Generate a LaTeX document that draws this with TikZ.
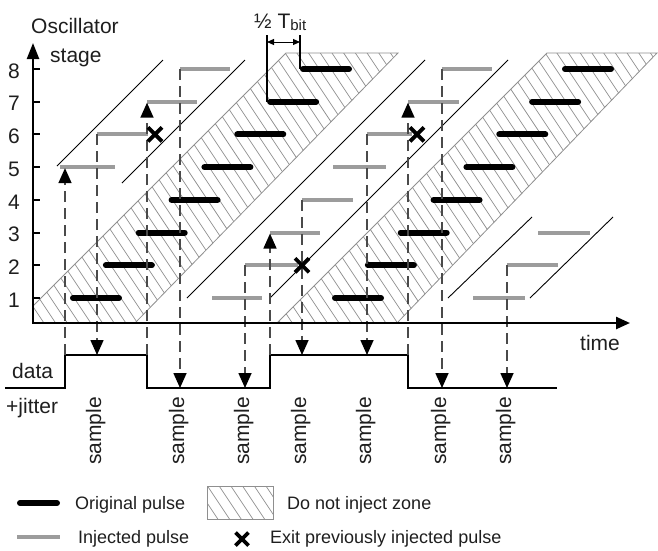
\documentclass[tikz,border=0pt]{standalone}
\usepackage{fontspec}
\setmainfont{Liberation Sans}
\usetikzlibrary{arrows.meta}
\definecolor{injgray}{HTML}{9C9C9C}
\definecolor{dashgray}{HTML}{4A4A4A}
\definecolor{hatchgray}{HTML}{8F8F8F}
\definecolor{txt}{HTML}{1E1E1E}
\begin{document}
\begin{tikzpicture}[x=1pt,y=-1pt,
  every node/.style={inner sep=0pt, text=txt},
  lbl/.style={font=\fontsize{21}{24}\selectfont},
  leg/.style={font=\fontsize{18}{21}\selectfont},
  orig/.style={line width=6pt, line cap=round, black},
  inj/.style={line width=4pt, injgray},
  thinl/.style={line width=0.9pt, black},
  dsh/.style={line width=1.6pt, dashgray, dash pattern=on 11pt off 6pt},
  tri/.style={-{Triangle[length=15pt,width=13pt,black]}},
  axis/.style={line width=2.4pt, black},
  datal/.style={line width=2.6pt, black},
  hatchl/.style={line width=0.7pt, hatchgray},
  hborder/.style={line width=0.8pt, hatchgray},
  xm/.style={line width=3.8pt, black},
]
\useasboundingbox (0,0) rectangle (658,550);

% ---- do-not-inject zones
\begin{scope}
  \clip (33,323) -- (33,306) -- (286,53) -- (398,53) -- (135,323) -- cycle;
  \foreach \a in {-250,-238.3,...,450} \draw[hatchl] (\a,40) -- ++(200,300);
\end{scope}
\draw[hborder] (33,306) -- (286,53) -- (398,53) -- (135,323);
\begin{scope}
  \clip (277,323) -- (547,53) -- (657,53) -- (397,323) -- cycle;
  \foreach \a in {10,21.7,...,700} \draw[hatchl] (\a,40) -- ++(200,300);
\end{scope}
\draw[hborder] (277,323) -- (547,53) -- (657,53) -- (397,323);

% ---- injection window lines
\draw[thinl] (57,166) -- (163,60);
\draw[thinl] (122,183) -- (245,60);
\draw[thinl] (187,298) -- (425,60);
\draw[thinl] (270,298) -- (508,60);
\draw[thinl] (448,298) -- (532,217);
\draw[thinl] (530,298) -- (613,217);

% ---- injected pulses
\foreach \xa/\xb/\k in {60/115/5, 97/148/6, 147/197/7, 180/230/8,
  212/262/1, 245/298/2, 270/320/3, 302/353/4, 333/386/5, 367/412/6, 408/459/7, 442/492/8,
  473/525/1, 507/558/2, 538/590/3}{
  \pgfmathsetmacro\yy{298-(\k-1)*32.714}
  \draw[inj] (\xa,\yy) -- (\xb,\yy);
}

% ---- original pulses
\foreach \k in {1,...,8}{
  \pgfmathsetmacro\yy{298-(\k-1)*32.714}
  \pgfmathsetmacro\xs{70+(\k-1)*32.857}
  \draw[orig] (\xs+3,\yy) -- ++(46,0);
  \draw[orig] (\xs+265,\yy) -- ++(46,0);
}

% ---- data + jitter line
\draw[datal] (5,388) -- (65,388) -- (65,355) -- (147,355) -- (147,388)
  -- (270,388) -- (270,355) -- (408,355) -- (408,388) -- (557,388);

% ---- sampling arrows (down)
\foreach \x/\k/\yd [count=\i] in {97/6/355, 180/8/388, 245/2/388, 302/4/355,
  367/6/355, 442/8/388, 507/2/388}{
  \pgfmathsetmacro\yy{298-(\k-1)*32.714}
  \coordinate (top\i) at (\x,\yy);
  \coordinate (smp\i) at (\x,\yd);
  \draw[dsh,tri] (top\i) -- (smp\i);
  \node[lbl, rotate=90, anchor=base] (s\i) at (\x+4,431) {sample};
}

% ---- injection arrows (up)
\foreach \x/\k [count=\i] in {65/5, 147/7, 270/3, 408/7}{
  \pgfmathsetmacro\yy{298-(\k-1)*32.714+1}
  \coordinate (edge\i) at (\x,355);
  \coordinate (inj\i) at (\x,\yy);
  \draw[dsh,tri] (edge\i) -- (inj\i);
}

% ---- axes
\coordinate (orig) at (33,323);
\coordinate (ytip) at (33,43);
\coordinate (xtip) at (630,323);
\draw[axis, {Triangle[length=16pt,width=12pt]}-{Triangle[length=14pt,width=12pt]}]
  (ytip) -- (orig) -- (xtip);
\foreach \k in {1,...,8}{
  \pgfmathsetmacro\yy{298-(\k-1)*32.714}
  \draw[line width=2pt] (33,\yy) -- (40,\yy);
  \node[lbl] (t\k) at (14,\yy+2) {\k};
}

% ---- exit markers
\foreach \p in {(155,134.4), (302,265.3), (417,134.4)}{
  \draw[xm] \p +(-7,-7) -- +(7,7) +(-7,7) -- +(7,-7);
}

% ---- half bit period
\draw[line width=1.5pt] (267,35) -- (267,101.7);
\draw[line width=1.5pt] (300,35) -- (300,69);
\coordinate (hl) at (267,42);
\coordinate (hr) at (300,42);
\draw[line width=1pt, {Triangle[length=7pt,width=6pt]}-{Triangle[length=7pt,width=6pt]}] (hl) -- (hr);
\node[lbl, anchor=base west] (half) at (254,28) {½ T\raisebox{-2pt}{\fontsize{15}{15}\selectfont bit}};

% ---- axis labels
\node[lbl, anchor=base west] (osc) at (31,33) {Oscillator};
\node[lbl, anchor=base west] (stg) at (50,62) {stage};
\node[lbl, anchor=base west] (time) at (580,350) {time};
\node[lbl, anchor=base west] (data) at (12,378) {data};
\node[lbl, anchor=base west] (jit) at (6,413) {+jitter};

% ---- legend
\draw[orig] (20,503) -- (57,503);
\node[leg, anchor=base west] (l1) at (75,509) {Original pulse};
\begin{scope}
  \clip (207,486) rectangle (273,519);
  \foreach \a in {150,161.7,...,300} \draw[hatchl] (\a,470) -- ++(35,52.5);
\end{scope}
\draw[hborder] (207,486) rectangle (273,519);
\node[leg, anchor=base west] (l2) at (287,509) {Do not inject zone};
\draw[inj] (17,537) -- (60,537);
\node[leg, anchor=base west] (l3) at (78,543) {Injected pulse};
\draw[xm] (242,539) +(-6.5,-6.5) -- +(6.5,6.5) +(-6.5,6.5) -- +(6.5,-6.5);
\node[leg, anchor=base west] (l4) at (270,543) {Exit previously injected pulse};
\end{tikzpicture}
\end{document}
